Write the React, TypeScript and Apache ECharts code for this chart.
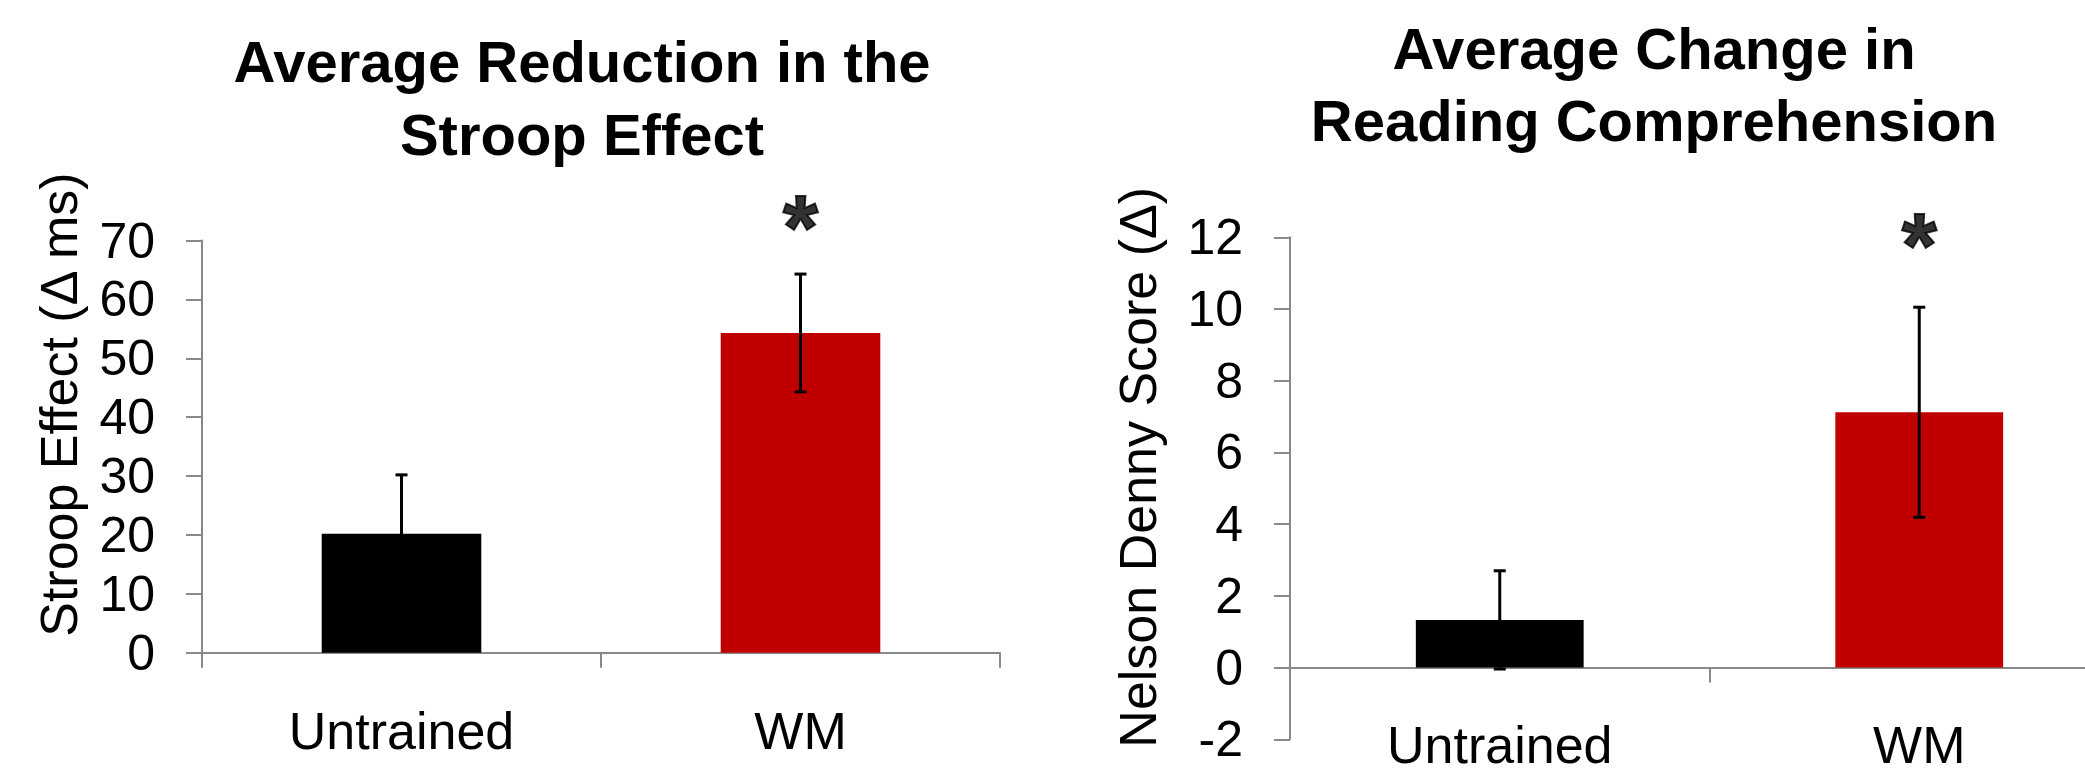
import React, { useEffect, useRef } from "react";
import * as echarts from "echarts";

// ---- data ----
const categories = ["Untrained", "WM"];
const stroopValues = [20.2, 54.3];
const stroopErrors = [10.0, 10.0];
const readingValues = [1.33, 7.12];
const readingErrors = [1.37, 2.93];
const barColors = ["#000000", "#C00000"];
const stroopAxis = { min: 0, max: 70, interval: 10 };
const readingAxis = { min: -2, max: 12, interval: 2 };
// significance markers (category index, value at marker)
const stroopStar = [[1, 74.8]];
const readingStar = [[1, 12.2]];
const titles = ["Average Reduction in the\nStroop Effect", "Average Change in\nReading Comprehension"];
const yNames = ["Stroop Effect (\u0394 ms)", "Nelson Denny Score (\u0394)"];

const FONT = "'Liberation Sans', Arial, sans-serif";
const AXIS_COLOR = "#898989";

function errorRender(params: any, api: any) {
  const x = api.value(0);
  const lo = api.coord([x, api.value(1)]);
  const hi = api.coord([x, api.value(2)]);
  const w = 6;
  const style = { stroke: "#000", lineWidth: 3 };
  return {
    type: "group",
    children: [
      { type: "line", shape: { x1: hi[0], y1: hi[1], x2: lo[0], y2: lo[1] }, style },
      { type: "line", shape: { x1: hi[0] - w, y1: hi[1], x2: hi[0] + w, y2: hi[1] }, style },
      { type: "line", shape: { x1: lo[0] - w, y1: lo[1], x2: lo[0] + w, y2: lo[1] }, style },
    ],
  };
}

function yAxisOf(
  grid: number,
  ax: { min: number; max: number; interval: number },
  name: string,
  gap: number,
  shift: number
) {
  return {
    type: "value",
    gridIndex: grid,
    min: ax.min,
    max: ax.max,
    interval: ax.interval,
    name,
    nameLocation: "middle",
    nameGap: gap,
    nameTextStyle: { fontSize: 52, color: "#000", fontFamily: FONT, padding: [0, 0, 0, shift] },
    axisLine: { show: true, lineStyle: { color: AXIS_COLOR, width: 2 } },
    axisTick: { show: true, length: 16, lineStyle: { color: AXIS_COLOR, width: 2 } },
    axisLabel: { fontSize: 50, color: "#000", fontFamily: FONT, margin: 47 },
    splitLine: { show: false },
  };
}

function xAxisOf(grid: number, margin: number) {
  return {
    type: "category",
    gridIndex: grid,
    data: categories,
    axisLine: { show: true, onZero: true, lineStyle: { color: AXIS_COLOR, width: 2 } },
    axisTick: { show: true, length: 15, interval: 0, lineStyle: { color: AXIS_COLOR, width: 2 } },
    axisLabel: { fontSize: 52, color: "#000", fontFamily: FONT, margin, interval: 0 },
  };
}

function seriesOf(idx: number, values: number[], errors: number[], star: number[][]) {
  return [
    {
      type: "bar",
      xAxisIndex: idx,
      yAxisIndex: idx,
      barWidth: "40%",
      data: values.map((v, i) => ({ value: v, itemStyle: { color: barColors[i] } })),
    },
    {
      type: "custom",
      xAxisIndex: idx,
      yAxisIndex: idx,
      renderItem: errorRender,
      clip: false,
      data: values.map((v, i) => [i, v - errors[i], v + errors[i]]),
      z: 5,
    },
    {
      type: "scatter",
      xAxisIndex: idx,
      yAxisIndex: idx,
      symbolSize: 1,
      itemStyle: { color: "transparent" },
      clip: false,
      data: star,
      label: {
        show: true,
        position: "inside",
        formatter: "*",
        fontSize: 90,
        fontWeight: "bold",
        color: "#000",
        textBorderColor: "#000",
        textBorderWidth: 2,
        fontFamily: FONT,
        offset: [0, 16],
      },
      z: 6,
    },
  ];
}

export default function App() {
  const ref = useRef<HTMLDivElement>(null);
  useEffect(() => {
    if (!ref.current) return;
    const chart = echarts.init(ref.current, undefined, { renderer: "svg" });
    chart.setOption({
      animation: false,
      backgroundColor: "#ffffff",
      title: [
        {
          text: titles[0],
          left: 577,
          top: 20,
          textAlign: "center",
          textStyle: { fontSize: 58, fontWeight: "bold", lineHeight: 73, color: "#000", fontFamily: FONT },
        },
        {
          text: titles[1],
          left: 1649,
          top: 7,
          textAlign: "center",
          textStyle: { fontSize: 58, fontWeight: "bold", lineHeight: 72, color: "#000", fontFamily: FONT },
        },
      ],
      grid: [
        { left: 202, top: 240.5, width: 798, height: 412.2, containLabel: false, outerBoundsMode: "none" },
        { left: 1290, top: 237.3, width: 839, height: 502, containLabel: false, outerBoundsMode: "none" },
      ],
      xAxis: [xAxisOf(0, 52), xAxisOf(1, -20)],
      yAxis: [
        yAxisOf(0, stroopAxis, yNames[0], 117, 84),
        yAxisOf(1, readingAxis, yNames[1], 126, 42),
      ],
      series: [
        ...seriesOf(0, stroopValues, stroopErrors, stroopStar),
        ...seriesOf(1, readingValues, readingErrors, readingStar),
      ],
    });
    return () => chart.dispose();
  }, []);
  return (
    <div
      ref={ref}
      style={{ position: "absolute", left: 0, top: 0, width: 2085, height: 777, background: "#fff" }}
    />
  );
}
